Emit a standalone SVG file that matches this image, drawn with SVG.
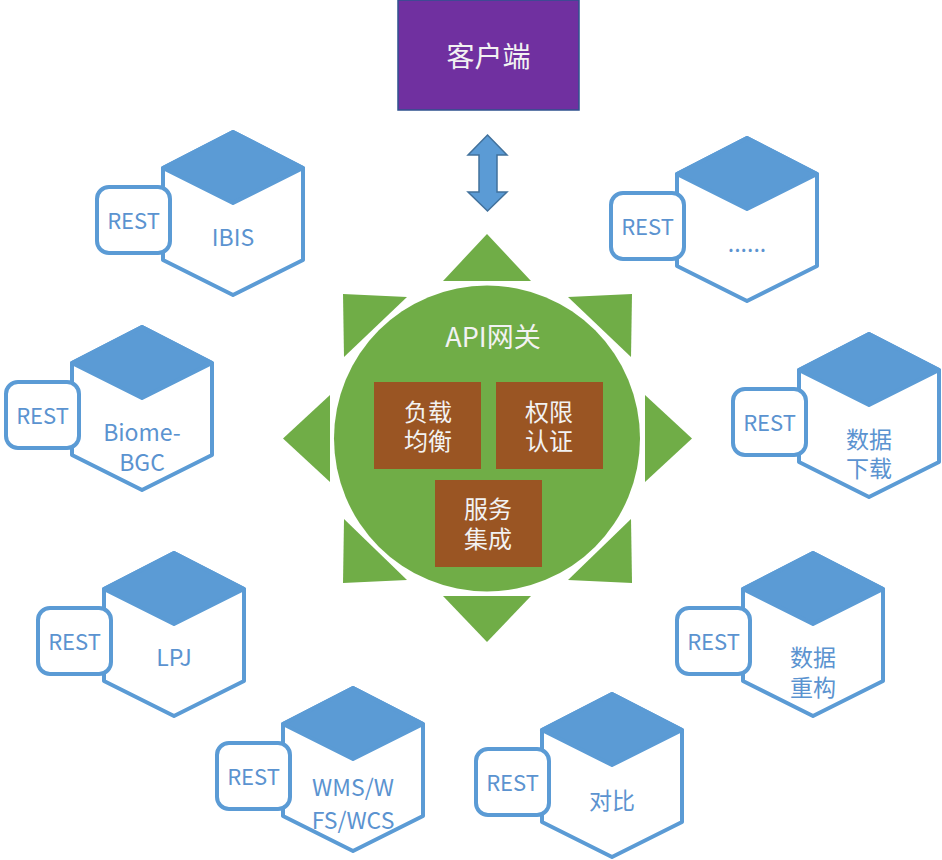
<svg xmlns="http://www.w3.org/2000/svg" width="942" height="860" viewBox="0 0 942 860">
<style>
.hex{fill:#ffffff;stroke:#5B9BD5;stroke-width:4;stroke-linejoin:round}
.top{fill:#5B9BD5;stroke:#5B9BD5;stroke-width:4;stroke-linejoin:round}
.rest{fill:#ffffff;stroke:#5B9BD5;stroke-width:4}
.lbl{font-family:"Noto Sans CJK SC","Noto Sans",sans-serif;font-size:23px;fill:#5B93D0;text-anchor:middle}
.rt{font-family:"Noto Sans CJK SC","Noto Sans",sans-serif;font-size:22px;fill:#5B93D0;text-anchor:middle}
.sun{fill:#70AD47}
.brown{fill:#9A5523}
.wt{font-family:"Noto Sans CJK SC","Noto Sans",sans-serif;font-size:24px;fill:#F2F2F2;text-anchor:middle}
</style>
<defs>
<g id="cube">
<polygon class="hex" points="0,0 70,36 70,128 0,163 -70,128 -70,36"/>
<polygon class="top" points="0,0 70,36 0,71 -70,36"/>
<rect class="rest" x="-136" y="55" width="73" height="66" rx="12"/>
<text class="rt" x="-99.5" y="96.5">REST</text>
</g>
</defs>
<rect width="942" height="860" fill="#ffffff"/>
<g id="client">
<rect x="398" y="0" width="181" height="110" fill="#7030A0" stroke="#2F528F" stroke-width="1.5"/>
<text x="488.5" y="66.5" font-family="Noto Sans CJK SC, sans-serif" font-size="28" fill="#F2F2F2" text-anchor="middle">客户端</text>
</g>
<g id="connectors">
<path d="M487.5,135 L507,155 L497,155 L497,192 L507,192 L487.5,211 L468,192 L479,192 L479,155 L468,155 Z" fill="#5B9BD5" stroke="#41719C" stroke-width="1.5" stroke-linejoin="miter"/>
</g>
<g id="gateway">
<circle class="sun" cx="487" cy="438.5" r="153"/>
<polygon class="sun" points="487,234 443,281 531,281"/>
<polygon class="sun" points="443,596 531,596 487,642"/>
<polygon class="sun" points="283,438.5 330,395 330,482"/>
<polygon class="sun" points="692,438.5 645,395 645,482"/>
<polygon class="sun" points="343,294 407,297 344,357"/>
<polygon class="sun" points="632,294 568,297 631,357"/>
<polygon class="sun" points="343,583 344,519 407,580"/>
<polygon class="sun" points="632,583 631,519 568,580"/>
<text x="493" y="347" font-family="Noto Sans CJK SC, Noto Sans, sans-serif" font-size="27" fill="#F2F2F2" text-anchor="middle">API网关</text>
</g>
<g id="load-balance">
<rect class="brown" x="374" y="382" width="107" height="87"/>
<text class="wt"><tspan x="428" y="421">负载</tspan><tspan x="428" y="450">均衡</tspan></text>
</g>
<g id="auth">
<rect class="brown" x="496" y="382" width="107" height="87"/>
<text class="wt"><tspan x="549" y="421">权限</tspan><tspan x="549" y="450">认证</tspan></text>
</g>
<g id="integration">
<rect class="brown" x="435" y="480" width="107" height="87"/>
<text class="wt"><tspan x="488" y="518">服务</tspan><tspan x="488" y="548">集成</tspan></text>
</g>
<g id="ibis" transform="translate(233,132)">
<use href="#cube"/>
<text class="lbl" x="0" y="113.5">IBIS</text>
</g>
<g id="other" transform="translate(747,138)">
<use href="#cube"/>
<text class="lbl" x="0" y="113.5">......</text>
</g>
<g id="biome-bgc" transform="translate(142,327)">
<use href="#cube"/>
<text class="lbl"><tspan x="0" y="114">Biome-</tspan><tspan x="0" y="144">BGC</tspan></text>
</g>
<g id="data-download" transform="translate(869,334)">
<use href="#cube"/>
<text class="lbl"><tspan x="0" y="113.5">数据</tspan><tspan x="0" y="142.5">下载</tspan></text>
</g>
<g id="lpj" transform="translate(174,553)">
<use href="#cube"/>
<text class="lbl" x="0" y="113">LPJ</text>
</g>
<g id="data-reconstruct" transform="translate(813,553)">
<use href="#cube"/>
<text class="lbl"><tspan x="0" y="112.5">数据</tspan><tspan x="0" y="143">重构</tspan></text>
</g>
<g id="wms" transform="translate(353,688)">
<use href="#cube"/>
<text class="lbl"><tspan x="0" y="107.5">WMS/W</tspan><tspan x="0" y="140.5">FS/WCS</tspan></text>
</g>
<g id="compare" transform="translate(612,694)">
<use href="#cube"/>
<text class="lbl" x="0" y="114.5">对比</text>
</g>
</svg>
